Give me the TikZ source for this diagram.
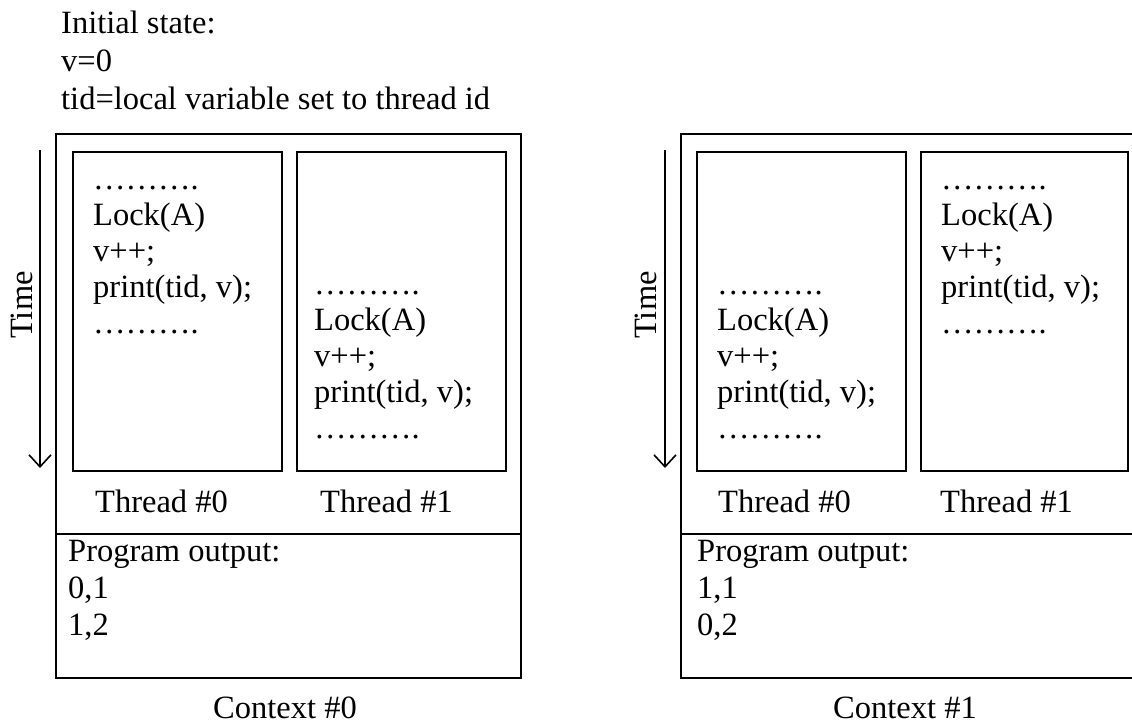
\documentclass[tikz,border=0pt]{standalone}
\usepackage{fontspec}
\setmainfont{Liberation Serif}
\usetikzlibrary{arrows.meta}
\begin{document}
\begin{tikzpicture}[x=1pt,y=-1pt,
  txt/.style={anchor=base west,inner sep=0pt,font=\fontsize{32.5}{37}\selectfont},
  ctr/.style={anchor=base,inner sep=0pt,font=\fontsize{32.5}{37}\selectfont},
  frame/.style={draw,line width=2pt},
  threadbox/.style={draw,line width=2pt,anchor=north west,inner sep=0pt,minimum width=209pt,minimum height=319pt},
  timearrow/.style={line width=1.6pt,-{Straight Barb[length=12pt,width=22pt,line width=1.6pt]}}
]
\useasboundingbox (0,0) rectangle (1132,723);

% initial state
\node[txt] (i1) at (61,33) {Initial state:};
\node[txt] (i2) at (61,71) {v=0};
\node[txt] (i3) at (61,109) {tid=local variable set to thread id};

% ===== Context 0 =====
\draw[frame] (56,134) rectangle (521,678);
\coordinate (c0dl) at (56,534);
\coordinate (c0dr) at (521,534);
\draw[frame] (c0dl) -- (c0dr);
\node[threadbox] (a0) at (72,151) {};
\node[threadbox] (a1) at (296,151) {};
\coordinate (ta0) at (40,150);
\coordinate (ta1) at (40,468);
\draw[timearrow] (ta0) -- (ta1);
\node[ctr,rotate=90,anchor=center] (time0) at (22,305) {Time};

\node[txt] (a0l1) at (93,189) {……….};
\node[txt] (a0l2) at (93,225) {Lock(A)};
\node[txt] (a0l3) at (93,261) {v++;};
\node[txt] (a0l4) at (93,297) {print(tid, v);};
\node[txt] (a0l5) at (93,333) {……….};

\node[txt] (a1l1) at (314,294) {……….};
\node[txt] (a1l2) at (314,330) {Lock(A)};
\node[txt] (a1l3) at (314,366) {v++;};
\node[txt] (a1l4) at (314,402) {print(tid, v);};
\node[txt] (a1l5) at (314,438) {……….};

\node[txt] (a0name) at (95,512) {Thread \#0};
\node[txt] (a1name) at (320,512) {Thread \#1};

\node[txt] (o0a) at (68,561) {Program output:};
\node[txt] (o0b) at (68,598) {0,1};
\node[txt] (o0c) at (68,635) {1,2};
\node[ctr] (ctx0) at (285,718) {Context \#0};

% ===== Context 1 =====
\coordinate (c1tl) at (681,134);
\coordinate (c1tr) at (1132,134);
\coordinate (c1bl) at (681,678);
\coordinate (c1br) at (1132,678);
\coordinate (c1dl) at (681,534);
\coordinate (c1dr) at (1132,534);
\draw[frame] (c1tr) -- (c1tl) -- (c1bl) -- (c1br);
\draw[frame] (c1dl) -- (c1dr);
\node[threadbox] (b0) at (696,151) {};
\node[threadbox,minimum width=207pt] (b1) at (920,151) {};
\coordinate (tb0) at (665,150);
\coordinate (tb1) at (665,468);
\draw[timearrow] (tb0) -- (tb1);
\node[ctr,rotate=90,anchor=center] (time1) at (646,305) {Time};

\node[txt] (b0l1) at (717,294) {……….};
\node[txt] (b0l2) at (717,330) {Lock(A)};
\node[txt] (b0l3) at (717,366) {v++;};
\node[txt] (b0l4) at (717,402) {print(tid, v);};
\node[txt] (b0l5) at (717,438) {……….};

\node[txt] (b1l1) at (941,189) {……….};
\node[txt] (b1l2) at (941,225) {Lock(A)};
\node[txt] (b1l3) at (941,261) {v++;};
\node[txt] (b1l4) at (941,297) {print(tid, v);};
\node[txt] (b1l5) at (941,333) {……….};

\node[txt] (b0name) at (718,512) {Thread \#0};
\node[txt] (b1name) at (940,512) {Thread \#1};

\node[txt] (o1a) at (697,561) {Program output:};
\node[txt] (o1b) at (697,598) {1,1};
\node[txt] (o1c) at (697,635) {0,2};
\node[ctr] (ctx1) at (905,718) {Context \#1};
\end{tikzpicture}
\end{document}
